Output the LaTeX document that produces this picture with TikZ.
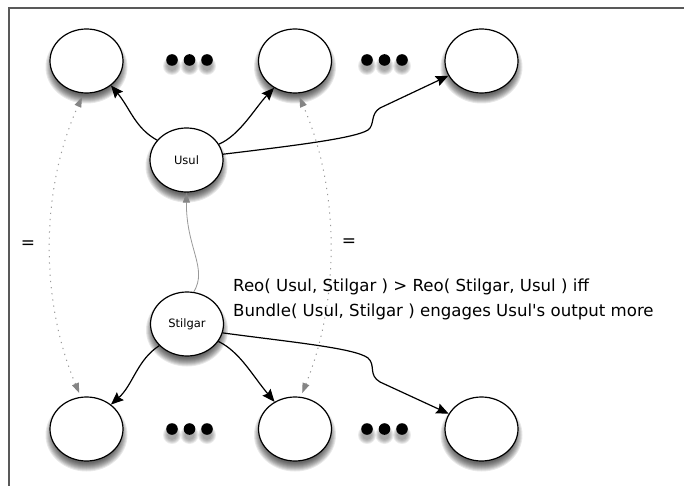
\documentclass[tikz,border=0pt]{standalone}
\usepackage{fontspec}
\newfontfamily\labelfont{DejaVu Sans}
\usetikzlibrary{shapes.geometric,arrows.meta}

\definecolor{framegray}{gray}{0.35}
\definecolor{eqgray}{gray}{0.6}
\definecolor{tipgray}{gray}{0.52}

% soft shadow below an ellipse: centre, x radius, y radius
\newcommand\softshade[3]{%
  \foreach \k in {0,...,8}{%
    \fill[black,opacity=0.09] ([yshift=-6pt]#1) ellipse [x radius={#2+4.5-\k}, y radius={#3+4.5-\k}];}}

\begin{document}
\begin{tikzpicture}[x=1pt,y=-1pt,
  bubble/.style={ellipse, draw=black, line width=1.2pt, fill=white,
    minimum width=73pt, minimum height=64pt, inner sep=0pt,
    font=\labelfont\fontsize{11.5}{13}\selectfont},
  link/.style={line width=1.2pt, -{Stealth[length=12.5pt,width=10.5pt,inset=1.8pt]}},
  feed/.style={draw=eqgray, line width=0.8pt,
    -{Triangle[length=10pt,width=7pt,color=tipgray]}},
  same/.style={draw=eqgray, line width=1pt, dash pattern=on 1.2pt off 5pt,
    {Triangle[length=10pt,width=7pt,color=tipgray]}-{Triangle[length=10pt,width=7pt,color=tipgray]},
    shorten <=4pt, shorten >=4pt},
  eqsign/.style={font=\labelfont\fontsize{17}{17}\selectfont, inner sep=0pt},
  rulebox/.style={anchor=north west, inner sep=0pt, align=left,
    font=\labelfont\fontsize{16.6}{25}\selectfont}
  ]
\fill[white] (0,0) rectangle (684,486);
\useasboundingbox (0,0) rectangle (684,486);

% frame
\draw[framegray, line width=1.3pt] (9,490) -- (9,8) -- (690,8);

% positions
\coordinate (pt1) at (86.5,61);
\coordinate (pt2) at (295,61);
\coordinate (pt3) at (481.5,61);
\coordinate (pb1) at (86.5,429);
\coordinate (pb2) at (295,429);
\coordinate (pb3) at (481.5,429);
\coordinate (pu) at (186.5,160);
\coordinate (ps) at (187,324);

% shadows
\foreach \p in {pt1,pt2,pt3,pb1,pb2,pb3,pu,ps}{\softshade{\p}{36.5}{32}}

% ellipsis dots
\foreach \y in {60,429}{
  \foreach \x in {172,189.5,207,367,384.5,402}{
    \foreach \k in {0,...,4}{\fill[black,opacity=0.08] (\x,\y+6) circle [radius={9-\k}];}
    \fill[black] (\x,\y) circle [radius=5.8];
  }
}

% nodes
\node[bubble] (t1) at (pt1) {};
\node[bubble] (t2) at (pt2) {};
\node[bubble] (t3) at (pt3) {};
\node[bubble] (b1) at (pb1) {};
\node[bubble] (b2) at (pb2) {};
\node[bubble] (b3) at (pb3) {};
\node[bubble] (ul) at (pu) {Usul};
\node[bubble] (st) at (ps) {Stilgar};

% outputs of Usul
\draw[link] (ul.146) .. controls (135,128) and (130,108) .. (t1.-45);
\draw[link] (ul.26) .. controls (240,135) and (255,108) .. (t2.-128);
\draw[link] (ul.9) .. controls (300,145) and (355,138) .. (368,130)
  .. controls (375,125) and (370,114) .. (380,108) -- (t3.204);

% outputs of Stilgar
\draw[link] (st.218) .. controls (137,360) and (133,385) .. (b1.45);
\draw[link] (st.-29) .. controls (240,352) and (252,375) .. (b2.127);
\draw[link] (st.-14) .. controls (290,342) and (355,348) .. (368,358)
  .. controls (376,365) and (368,375) .. (380,382) -- (b3.155);

% Stilgar feeds Usul
\draw[feed] (st.78) .. controls (208,268) and (186,248) .. (ul.south);

% equivalences
\draw[same] (b1.100) .. controls (40,300) and (40,190) .. (t1.265);
\draw[same] (b2.80) .. controls (340,300) and (340,190) .. (t2.-85);
\node[eqsign] (eqL) at (28,245) {=};
\node[eqsign] (eqR) at (349,243) {=};

% condition
\node[rulebox] (rule) at (233,279) {Reo( Usul, Stilgar ) > Reo( Stilgar, Usul ) iff\\Bundle( Usul, Stilgar ) engages Usul's output more};
\end{tikzpicture}
\end{document}
